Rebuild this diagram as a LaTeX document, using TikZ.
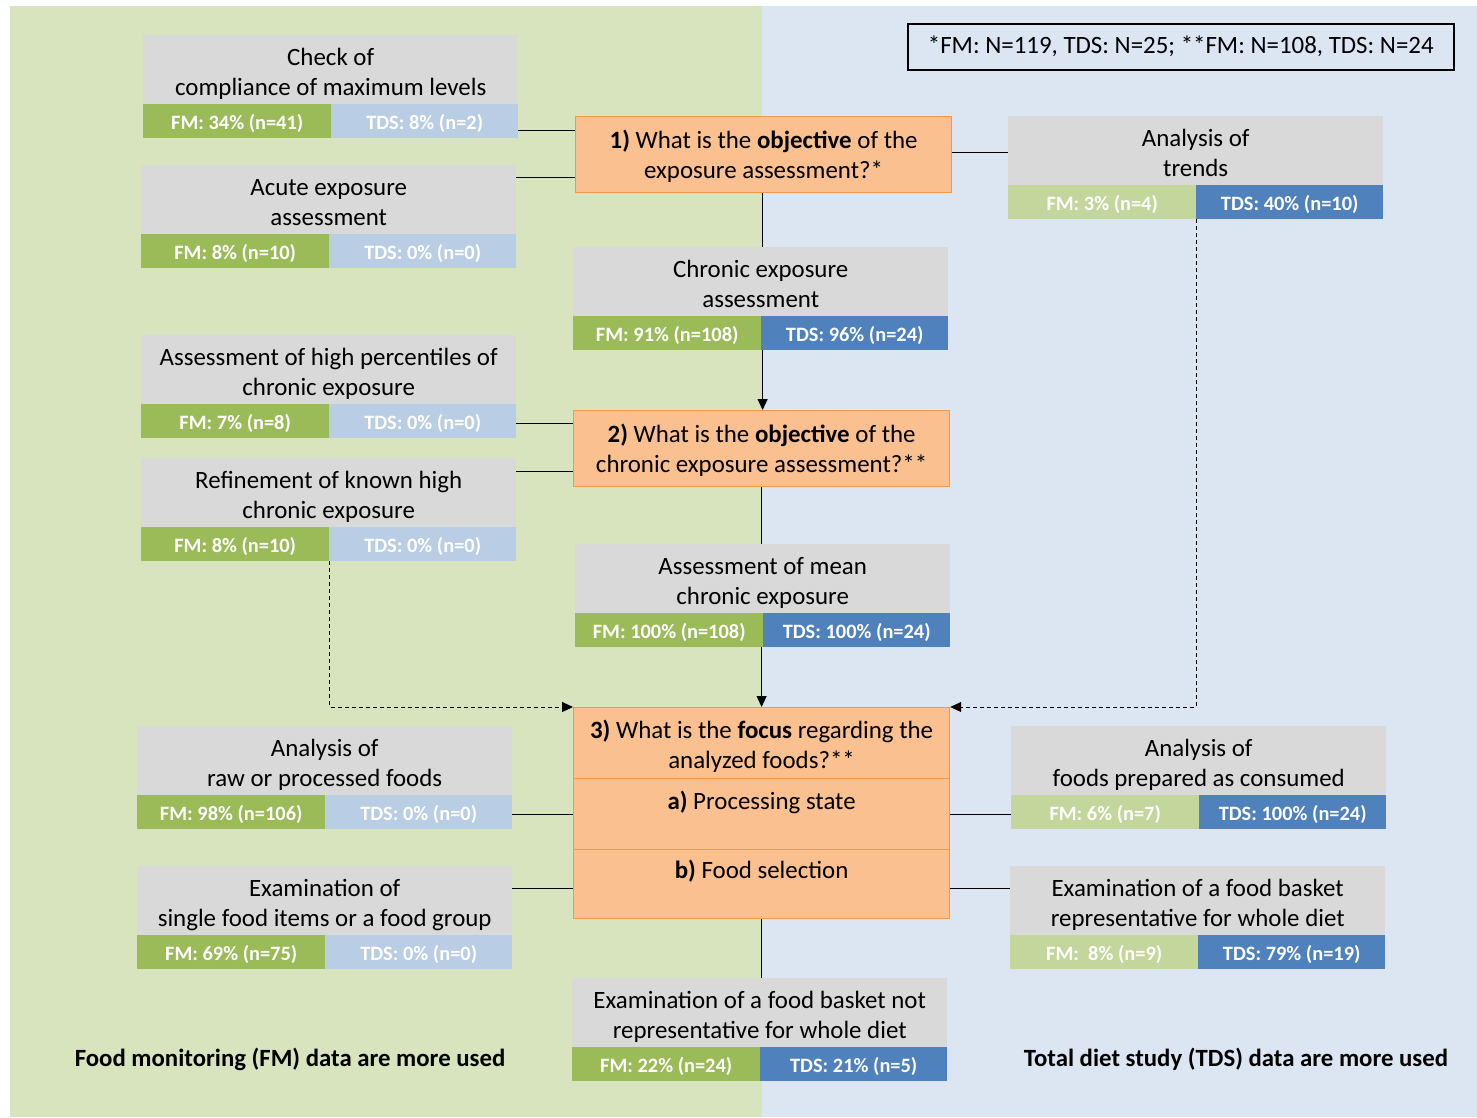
\documentclass[tikz,border=0pt]{standalone}
\usepackage{fontspec}
\setmainfont{Carlito}
\usetikzlibrary{arrows.meta,calc}

\definecolor{bggreen}{HTML}{D7E4BD}
\definecolor{bgblue}{HTML}{DCE6F2}
\definecolor{boxgray}{HTML}{D9D9D9}
\definecolor{fmdark}{HTML}{9BBB59}
\definecolor{fmlight}{HTML}{C3D69B}
\definecolor{tdsdark}{HTML}{4F81BD}
\definecolor{tdslight}{HTML}{B9CDE5}
\definecolor{qfill}{HTML}{FAC090}
\definecolor{qborder}{HTML}{F79646}

\pgfdeclarelayer{bg}
\pgfdeclarelayer{wires}
\pgfsetlayers{bg,wires,main}

\tikzset{
  % two-line captions: text height is measured to the last baseline
  graybox/.style={fill=boxgray, inner sep=0pt, minimum height=69pt, align=center,
    text height=54pt, text depth=3pt,
    font=\fontsize{24.9}{30}\selectfont, text=black},
  barbox/.style={inner sep=0pt, minimum height=34pt, text height=18pt, text depth=1pt,
    font=\bfseries\fontsize{20.4}{22}\selectfont, text=white},
  fmd/.style={fill=fmdark},
  fml/.style={fill=fmlight},
  tdd/.style={fill=tdsdark},
  tdl/.style={fill=tdslight},
  question/.style={draw=qborder, fill=qfill, line width=1.2pt, inner sep=0pt,
    align=center, anchor=north west, minimum width=376pt,
    text height=54pt, text depth=4pt,
    font=\fontsize{24.9}{30}\selectfont},
  wire/.style={draw=black, line width=1pt},
  flow/.style={wire, -{Triangle[length=11pt,width=10pt]}},
  hint/.style={flow, dash pattern=on 4pt off 3pt},
  footer/.style={font=\bfseries\fontsize{24.8}{28}\selectfont},
}

% outcome box: name, left, top, caption, FM style, FM text, TDS style, TDS text
\newcommand\outcome[8]{%
  \node[graybox, anchor=north west, minimum width=375pt] (#1) at (#2,#3) {#4};
  \node[barbox, #5, anchor=north west, minimum width=188pt] (#1-fm) at (#2,#3+69) {#6};
  \node[barbox, #7, anchor=north west, minimum width=187pt] (#1-tds) at (#2+188,#3+69) {#8};
}

\begin{document}
\begin{tikzpicture}[x=1pt, y=-1pt]
\useasboundingbox (0,0) rectangle (1477,1117);

\begin{pgfonlayer}{bg}
  \fill[white] (0,0) rectangle (1477,1117);
  \fill[bggreen] (10,6) rectangle (762,1117);
  \fill[bgblue] (762,6) rectangle (1477,1117);
\end{pgfonlayer}

% note on sample sizes
\node[draw, line width=1.5pt, anchor=north west, minimum width=546pt, minimum height=46pt,
  inner sep=0pt, font=\fontsize{24.9}{28}\selectfont] (note) at (907,23)
  {*FM: N=119, TDS: N=25; **FM: N=108, TDS: N=24};

% questions
\node[question, minimum height=76pt, text depth=6pt] (q1) at (575,116)
  {\textbf{1)} What is the \textbf{objective} of the\\exposure assessment?*};
\node[question, minimum height=76pt, text depth=6pt] (q2) at (573,410)
  {\textbf{2)} What is the \textbf{objective} of the\\chronic exposure assessment?**};
\node[question, minimum height=71pt, text depth=3pt] (q3t) at (573,707)
  {\textbf{3)} What is the \textbf{focus} regarding the\\analyzed foods?**};
\node[question, minimum height=71pt, text depth=3pt] (q3a) at (573,778)
  {\textbf{a)} Processing state\\\mbox{}};
\node[question, minimum height=69pt, text depth=5pt] (q3b) at (573,849)
  {\textbf{b)} Food selection\\\mbox{}};

% outcomes
\outcome{cmpl}{143}{35}{Check of\\compliance of maximum levels}{fmd}{FM: 34\% (n=41)}{tdl}{TDS: 8\% (n=2)}
\outcome{acute}{141}{165}{Acute exposure\\assessment}{fmd}{FM: 8\% (n=10)}{tdl}{TDS: 0\% (n=0)}
\outcome{trend}{1008}{116}{Analysis of\\trends}{fml}{FM: 3\% (n=4)}{tdd}{TDS: 40\% (n=10)}
\outcome{chron}{573}{247}{Chronic exposure\\assessment}{fmd}{FM: 91\% (n=108)}{tdd}{TDS: 96\% (n=24)}
\outcome{high}{141}{335}{Assessment of high percentiles of\\chronic exposure}{fmd}{FM: 7\% (n=8)}{tdl}{TDS: 0\% (n=0)}
\outcome{refine}{141}{458}{Refinement of known high\\chronic exposure}{fmd}{FM: 8\% (n=10)}{tdl}{TDS: 0\% (n=0)}
\outcome{mean}{575}{544}{Assessment of mean\\chronic exposure}{fmd}{FM: 100\% (n=108)}{tdd}{TDS: 100\% (n=24)}
\outcome{raw}{137}{726}{Analysis of\\raw or processed foods}{fmd}{FM: 98\% (n=106)}{tdl}{TDS: 0\% (n=0)}
\outcome{prep}{1011}{726}{Analysis of\\foods prepared as consumed}{fml}{FM: 6\% (n=7)}{tdd}{TDS: 100\% (n=24)}
\outcome{single}{137}{866}{Examination of\\single food items or a food group}{fmd}{FM: 69\% (n=75)}{tdl}{TDS: 0\% (n=0)}
\outcome{whole}{1010}{866}{Examination of a food basket\\representative for whole diet}{fml}{FM:\ \ 8\% (n=9)}{tdd}{TDS: 79\% (n=19)}
\outcome{notwhole}{572}{978}{Examination of a food basket not\\representative for whole diet}{fmd}{FM: 22\% (n=24)}{tdd}{TDS: 21\% (n=5)}

% footers
\node[footer] (fmfoot) at (290,1059) {Food monitoring (FM) data are more used};
\node[footer] (tdsfoot) at (1236,1059) {Total diet study (TDS) data are more used};

% connectors
\begin{pgfonlayer}{wires}
  \draw[wire] ([yshift=24pt]q1.west) -- ([yshift=24pt]q1.west -| cmpl.east);
  \draw[wire] ([yshift=-23pt]q1.west) -- ([yshift=-23pt]q1.west -| acute.east);
  \draw[wire] ([yshift=2pt]q1.east) -- ([yshift=2pt]q1.east -| trend.west);
  \draw[flow] ([xshift=-1pt]q1.south) -- ([xshift=-1pt]q1.south |- q2.north);
  \draw[wire] ([yshift=25pt]q2.west) -- ([yshift=25pt]q2.west -| high.east);
  \draw[wire] ([yshift=-23pt]q2.west) -- ([yshift=-23pt]q2.west -| refine.east);
  \draw[flow] (q2.south) -- (q2.south |- q3t.north);
  \draw[hint] (refine-fm.south east) |- (q3t.north west);
  \draw[hint] (trend-fm.south east) |- (q3t.north east);
  \draw[wire] (q3a.west) -- (q3a.west -| raw.east);
  \draw[wire] (q3a.east) -- (q3a.east -| prep.west);
  \draw[wire] ([yshift=-4pt]q3b.west) -- ([yshift=-4pt]q3b.west -| single.east);
  \draw[wire] ([yshift=-4pt]q3b.east) -- ([yshift=-4pt]q3b.east -| whole.west);
  \draw[wire] (q3b.south) -- (q3b.south |- notwhole.north);
\end{pgfonlayer}
\end{tikzpicture}
\end{document}
